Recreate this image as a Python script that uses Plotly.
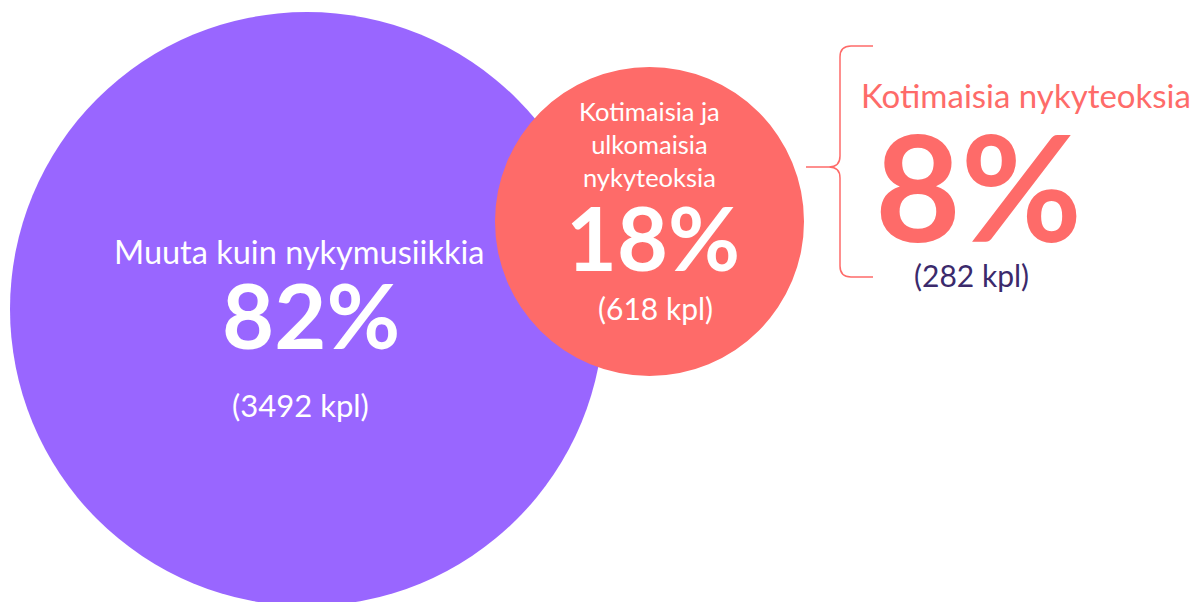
import plotly.graph_objects as go

# ---- data ----
categories = ["Muuta kuin nykymusiikkia",
              "Kotimaisia ja ulkomaisia nykyteoksia",
              "Kotimaisia nykyteoksia"]
label_lines = [["Muuta kuin nykymusiikkia"],
               ["Kotimaisia ja", "ulkomaisia", "nykyteoksia"],
               ["Kotimaisia nykyteoksia"]]
percents = [82, 18, 8]
counts = [3492, 618, 282]

# ---- layout / style (pixel space) ----
W, H = 1195, 602
PURPLE = "#9966ff"
CORAL = "#fe6b69"
DARK = "#3b2a6c"
FONT = "Lato"

circles = [dict(cx=307, cy=309, r=297, color=PURPLE),
           dict(cx=649.5, cy=221.5, r=154.5, color=CORAL)]

fig = go.Figure()
fig.add_trace(go.Scatter(x=[0, W], y=[0, H], mode="markers",
                         marker=dict(opacity=0), hoverinfo="skip", showlegend=False))

for c in circles:
    fig.add_shape(type="circle", xref="x", yref="y",
                  x0=c["cx"] - c["r"], x1=c["cx"] + c["r"],
                  y0=c["cy"] - c["r"], y1=c["cy"] + c["r"],
                  fillcolor=c["color"], line=dict(width=0), layer="below")

# curly brace
brace = ("M 873 46 L 851 46 Q 840 46 840 57 L 840 156 Q 840 167 829 167 L 806 167 "
         "M 829 167 Q 840 167 840 178 L 840 266 Q 840 277 851 277 L 873 277")
fig.add_shape(type="path", path=brace, xref="x", yref="y",
              line=dict(color=CORAL, width=1.5))

def ann(text, x, y, size, color, weight="normal", box_h=None):
    fig.add_annotation(x=x, y=y, xref="x", yref="y", text=text, showarrow=False,
                       xanchor="center", yanchor="middle", align="center",
                       valign="middle", height=box_h,
                       font=dict(family=FONT, size=size, color=color, weight=weight))

# big purple circle
ann(label_lines[0][0], 299, 251, 32.5, "white")
ann(f"{percents[0]}%", 311, 314, 90, "white", "bold", box_h=80)
ann(f"({counts[0]} kpl)", 300, 405, 31, "white")

# coral circle
ann("<br>".join(label_lines[1]), 649, 144, 25.5, "white")
ann(f"{percents[1]}%", 653, 237, 88, "white", "bold", box_h=78)
ann(f"({counts[1]} kpl)", 655, 308, 30, "white")

# right side
ann(label_lines[2][0], 1026, 95, 33, CORAL)
ann(f"{percents[2]}%", 978, 185, 148, CORAL, "bold", box_h=126)
ann(f"({counts[2]} kpl)", 971, 275, 30, DARK)

fig.update_layout(width=W, height=H, margin=dict(l=0, r=0, t=0, b=0),
                  paper_bgcolor="white", plot_bgcolor="white",
                  showlegend=False)
fig.update_xaxes(range=[0, W], visible=False, fixedrange=True)
fig.update_yaxes(range=[H, 0], visible=False, fixedrange=True)

fig.write_html("out.html", config=dict(displayModeBar=False))
